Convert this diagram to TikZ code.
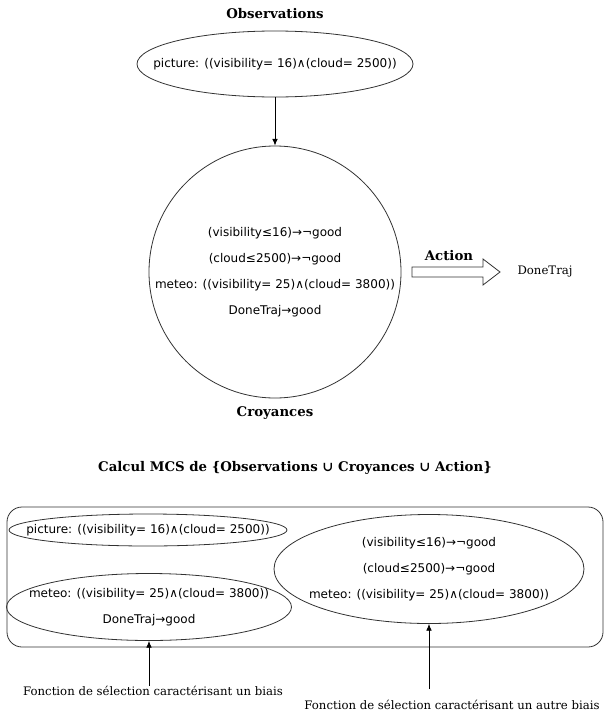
\documentclass[tikz,border=0pt]{standalone}
\usepackage{fontspec}
\setmainfont{DejaVu Serif}
\setsansfont{DejaVu Sans}
\usetikzlibrary{shapes.geometric,arrows.meta,positioning}
\definecolor{lngray}{RGB}{50,50,50}

\begin{document}
\begin{tikzpicture}[
		x=1pt, y=-1pt,
		title/.style={font=\fontsize{13.3}{15}\selectfont\bfseries, inner sep=0pt},
		label/.style={font=\fontsize{11.7}{14}\selectfont, inner sep=0pt},
		form/.style={font=\sffamily\fontsize{12}{26}\selectfont, align=center, inner sep=0pt},
		bubble/.style={ellipse, draw=lngray, line width=0.8pt, inner sep=0pt},
		arrow/.style={-{Latex[length=2.4mm,width=2mm]}, line width=0.8pt, color=black}
	]
		\useasboundingbox (0,0) rectangle (604,715);

		% partie haute
		\node[title] (obstitle) at (275,14) {Observations};
		\node[bubble, minimum width=276pt, minimum height=66pt] (obs) at (275,64) {};
		\node[form] at (obs) {picture: ((visibility= 16)∧(cloud= 2500))};

		\node[circle, draw=lngray, line width=0.8pt, minimum size=252pt, inner sep=0pt] (bel) at (275,272) {};
		\node[form] (beltxt) at (bel) {(visibility≤16)→¬good\\(cloud≤2500)→¬good\\meteo: ((visibility= 25)∧(cloud= 3800))\\DoneTraj→good};
		\node[title] (beltitle) at (275,413) {Croyances};

		\draw[arrow] (obs.south) -- (bel.north);

		% action
		\coordinate (act) at (412,272);
		\draw[lngray, line width=0.8pt] (act) ++(0,-5) -- ++(71,0) -- ++(0,-8) -- ++(17,13) -- ++(-17,13) -- ++(0,-8) -- ++(-71,0) -- cycle;
		\node[title] (acttitle) at (449,256) {Action};
		\node[label] (done) at (545,271) {DoneTraj};

		% calcul MCS
		\node[title] (mcstitle) at (295,468) {Calcul MCS de \{Observations ∪ Croyances ∪ Action\}};
		\node[rectangle, draw=lngray, line width=0.8pt, rounded corners=15pt, minimum width=596pt, minimum height=140pt, inner sep=0pt] (mcs) at (305,577) {};

		\node[bubble, minimum width=278pt, minimum height=32pt] (selA) at (148,530) {};
		\node[form] at (selA) {picture: ((visibility= 16)∧(cloud= 2500))};
		\node[bubble, minimum width=285pt, minimum height=67pt] (selB) at (149,607) {};
		\node[form] at (selB) {meteo: ((visibility= 25)∧(cloud= 3800))\\DoneTraj→good};
		\node[bubble, minimum width=310pt, minimum height=109pt] (selC) at (429,569) {};
		\node[form] at (selC) {(visibility≤16)→¬good\\(cloud≤2500)→¬good\\meteo: ((visibility= 25)∧(cloud= 3800))};

		% fonctions de selection
		\node[label] (biais) at (153,691) {Fonction de sélection caractérisant un biais};
		\node[label] (autre) at (452,705) {Fonction de sélection caractérisant un autre biais};
		\coordinate (autretop) at (429,689);
		\draw[arrow] (biais.north -| selB.south) -- (selB.south);
		\draw[arrow] (autretop) -- (selC.south);
	\end{tikzpicture}
\end{document}
